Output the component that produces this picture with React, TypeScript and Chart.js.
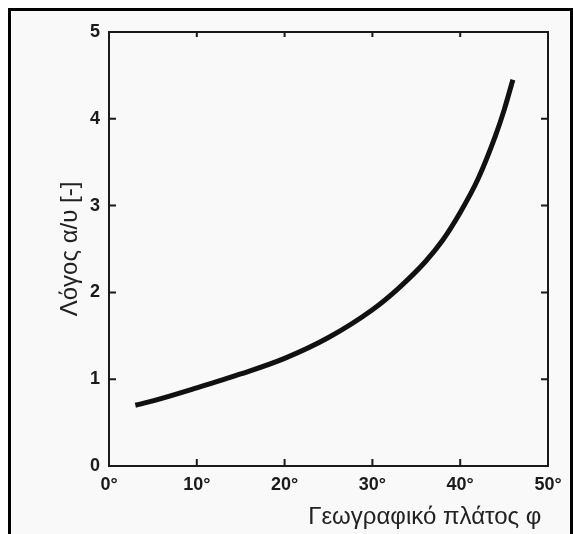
import React, { useEffect, useRef } from "react";
import { Chart, registerables } from "chart.js";

Chart.register(...registerables);

const latitudeDeg = [3, 5, 10, 15, 20, 25, 30, 33, 36, 38, 40, 42, 44, 45, 46];
const ratioAU = [0.7, 0.75, 0.9, 1.06, 1.24, 1.48, 1.8, 2.05, 2.35, 2.6, 2.92, 3.3, 3.8, 4.1, 4.45];
const xTickLabels = ["0°", "10°", "20°", "30°", "40°", "50°"];
const yTickLabels = ["0", "1", "2", "3", "4", "5"];
const xTitle = "Γεωγραφικό πλάτος φ";
const yTitle = "Λόγος α/υ [-]";

const framePlugin = {
  id: "framePlugin",
  afterDraw(chart: any) {
    const { ctx, chartArea } = chart;
    const { left, right, top, bottom } = chartArea;
    const xs = chart.scales.x;
    const ys = chart.scales.y;
    ctx.save();
    ctx.strokeStyle = "#1a1a1a";
    ctx.lineWidth = 2;
    ctx.strokeRect(left, top, right - left, bottom - top);
    const tl = 7;
    ctx.beginPath();
    xs.ticks.forEach((t: any) => {
      const px = xs.getPixelForValue(t.value);
      ctx.moveTo(px, bottom);
      ctx.lineTo(px, bottom - tl);
      ctx.moveTo(px, top);
      ctx.lineTo(px, top + tl - 2);
    });
    ys.ticks.forEach((t: any) => {
      const py = ys.getPixelForValue(t.value);
      ctx.moveTo(left, py);
      ctx.lineTo(left + tl, py);
      ctx.moveTo(right, py);
      ctx.lineTo(right - tl, py);
    });
    ctx.stroke();
    ctx.restore();
  },
};

export default function App() {
  const ref = useRef<HTMLCanvasElement>(null);
  useEffect(() => {
    if (!ref.current) return;
    const data = latitudeDeg.map((x, i) => ({ x, y: ratioAU[i] }));
    const chart = new Chart(ref.current, {
      type: "scatter",
      data: {
        datasets: [
          {
            data,
            showLine: true,
            borderColor: "#111",
            borderWidth: 5,
            pointRadius: 0,
            cubicInterpolationMode: "monotone",
            borderCapStyle: "butt",
          } as any,
        ],
      },
      plugins: [framePlugin],
      options: {
        animation: false,
        responsive: false,
        maintainAspectRatio: false,
        layout: { padding: { left: 52, right: 25, top: 32, bottom: 0 } },
        plugins: { legend: { display: false }, tooltip: { enabled: false } },
        scales: {
          x: {
            type: "linear",
            min: 0,
            max: 50,
            ticks: {
              stepSize: 10,
              padding: 8,
              color: "#1a1a1a",
              font: { family: "Liberation Sans", size: 18, weight: "bold" },
              callback: (v: any) => xTickLabels[Math.round(Number(v) / 10)] ?? "",
            },
            grid: { display: false, drawTicks: false },
            border: { display: false },
            title: {
              display: true,
              text: xTitle + " ",
              align: "end",
              color: "#222",
              font: { family: "Liberation Sans", size: 24 },
              padding: { top: 4, bottom: 2 },
            },
            afterFit: (s: any) => {
              s.height = 68;
            },
          },
          y: {
            type: "linear",
            min: 0,
            max: 5,
            ticks: {
              stepSize: 1,
              padding: 9,
              color: "#1a1a1a",
              font: { family: "Liberation Sans", size: 18, weight: "bold" },
              callback: (v: any) => yTickLabels[Math.round(Number(v))] ?? "",
            },
            grid: { display: false, drawTicks: false },
            border: { display: false },
            title: {
              display: true,
              text: yTitle,
              color: "#222",
              font: { family: "Liberation Sans", size: 24 },
              padding: { top: 4, bottom: 4 },
            },
            afterFit: (s: any) => {
              s.width = 57;
            },
          },
        },
      },
    });
    return () => chart.destroy();
  }, []);

  return (
    <div style={{ position: "absolute", left: 0, top: 0, width: 573, height: 534, background: "#fff", overflow: "hidden" }}>
      <div
        style={{
          position: "absolute",
          left: 8,
          top: 8,
          width: 559,
          height: 540,
          borderTop: "3px solid #000",
          borderLeft: "3px solid #000",
          borderRight: "3px solid #000",
          background: "#f9f9f9",
        }}
      />
      <canvas ref={ref} width={573} height={534} style={{ position: "absolute", left: 0, top: 0 }} />
    </div>
  );
}
